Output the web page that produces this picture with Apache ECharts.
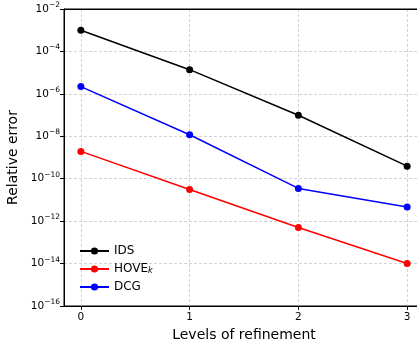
<!DOCTYPE html>
<html>
<head>
<meta charset="utf-8">
<script src="https://cdn.jsdelivr.net/npm/echarts@6/dist/echarts.min.js"></script>
<style>
  html, body { margin: 0; padding: 0; background: #fff; }
  #chart { width: 417px; height: 346px; }
</style>
</head>
<body>
<div id="chart"></div>
<script>
// Refinement levels on the x axis
const levels = [0, 1, 2, 3];

// Relative error per method at each refinement level
const idsError  = [1.0e-3, 1.38e-5, 9.8e-8, 3.9e-10];
const hoveError = [1.94e-9, 3.1e-11, 5.0e-13, 1.0e-14];
const dcgError  = [2.2e-6, 1.18e-8, 3.5e-11, 4.6e-12];

const seriesNames = ['IDS', 'HOVEk', 'DCG'];
const seriesColors = ['#000000', '#ff0000', '#0000ff'];
const seriesValues = [idsError, hoveError, dcgError];

const FONT = 'DejaVu Sans';
const GRID_DASH = { color: '#c8c8c8', type: [3, 2], width: 0.8 };

const chart = echarts.init(document.getElementById('chart'), null, { renderer: 'canvas' });

function pairs(values) {
  return levels.map((x, i) => [x, values[i]]);
}

const option = {
  animation: false,
  backgroundColor: '#ffffff',
  textStyle: { fontFamily: FONT, color: '#000' },
  grid: {
    left: 64, top: 9, bottom: 40, width: 360,
    containLabel: false, outerBoundsMode: 'none',
    show: true, borderColor: '#000', borderWidth: 1, backgroundColor: 'transparent'
  },
  legend: {
    orient: 'vertical',
    left: 74, top: 240,
    itemWidth: 29, itemHeight: 9, itemGap: 6,
    data: seriesNames,
    textStyle: {
      fontFamily: FONT, fontSize: 12, color: '#000', lineHeight: 12,
      rich: {
        b: { fontFamily: FONT, fontSize: 12, color: '#000', lineHeight: 12 },
        s: { fontFamily: FONT, fontSize: 8, fontStyle: 'italic', color: '#000', lineHeight: 8, verticalAlign: 'bottom' }
      }
    },
    formatter: name => name === 'HOVEk' ? '{b|HOVE}{s|k}' : name
  },
  xAxis: [{
    type: 'value',
    min: -0.155, max: 3.155, splitNumber: 3,
    name: 'Levels of refinement',
    nameLocation: 'middle', nameGap: 20,
    nameTextStyle: { fontFamily: FONT, fontSize: 14, color: '#000' },
    axisLine: { show: true, onZero: false, lineStyle: { color: '#000', width: 1 } },
    axisTick: { show: true, length: 4, lineStyle: { color: '#000' } },
    axisLabel: {
      fontFamily: FONT, fontSize: 10.5, color: '#000', margin: 6,
      showMinLabel: false, showMaxLabel: false,
      formatter: v => Number.isInteger(v) ? String(v) : ''
    },
    splitLine: { show: true, lineStyle: GRID_DASH }
  }, {
    // top spine of the plot frame
    type: 'value', position: 'top', min: -0.155, max: 3.155, z: 5,
    axisLine: { show: true, onZero: false, lineStyle: { color: '#000', width: 1 } },
    axisTick: { show: false }, axisLabel: { show: false }, splitLine: { show: false }
  }],
  yAxis: {
    type: 'log', logBase: 10,
    min: 1e-16, max: 1e-2, interval: 2,
    name: 'Relative error',
    nameLocation: 'middle', nameGap: 33,
    nameTextStyle: { fontFamily: FONT, fontSize: 14, color: '#000' },
    axisLine: { show: true, onZero: false, lineStyle: { color: '#000', width: 1 } },
    axisTick: { show: true, length: 4, lineStyle: { color: '#000' } },
    axisLabel: {
      fontFamily: FONT, fontSize: 10.5, color: '#000', margin: 4,
      formatter: v => {
        const e = Math.round(Math.log10(v));
        return '{b|10}{e|' + (e < 0 ? '\u2212' + (-e) : e) + '}';
      },
      rich: {
        b: { fontFamily: FONT, fontSize: 10.5, color: '#000' },
        e: { fontFamily: FONT, fontSize: 7.5, color: '#000', padding: [0, 0, 8, 0] }
      }
    },
    splitLine: { show: true, lineStyle: GRID_DASH },
    minorTick: { show: false }
  },
  series: seriesNames.map((name, i) => ({
    name,
    type: 'line',
    data: pairs(seriesValues[i]),
    symbol: 'circle',
    symbolSize: 7,
    color: seriesColors[i],
    lineStyle: { color: seriesColors[i], width: 1.5 },
    itemStyle: { color: seriesColors[i] },
    z: 3
  }))
};

chart.setOption(option);
</script>
</body>
</html>
